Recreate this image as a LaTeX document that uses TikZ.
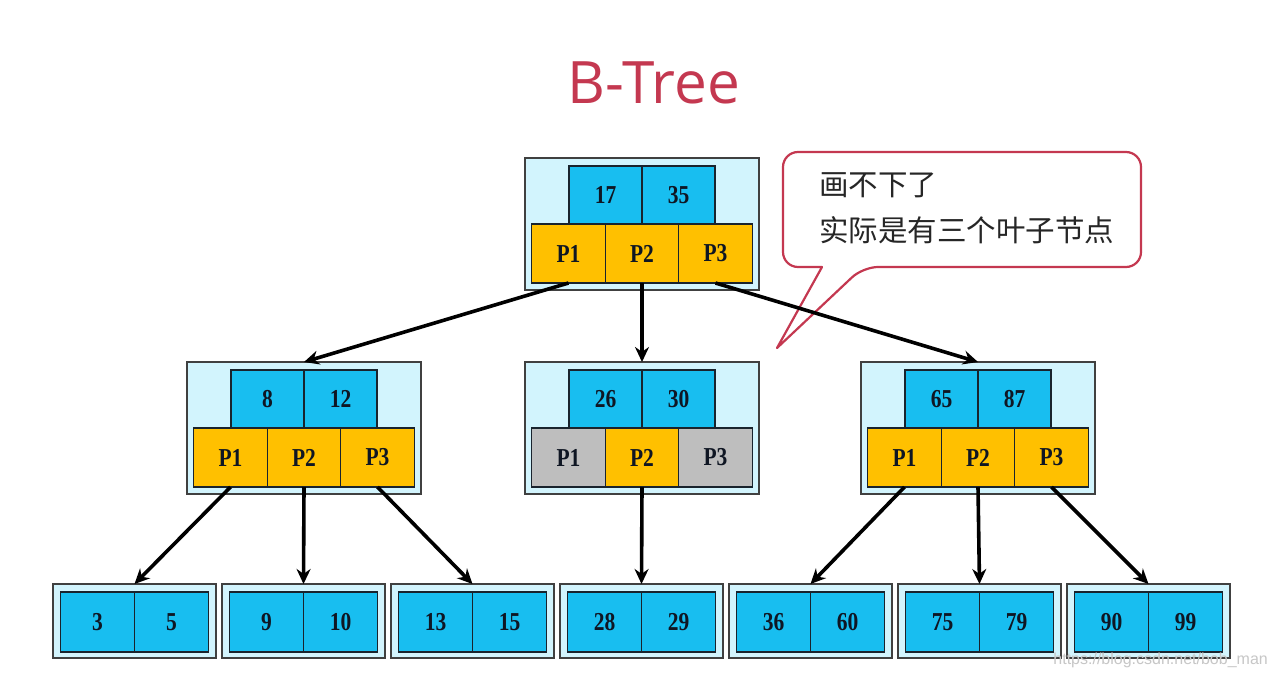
\documentclass[tikz,border=0pt]{standalone}
\usepackage{fontspec}
\setmainfont{Liberation Serif}
\newfontfamily\cjk{Noto Sans CJK SC}
\newfontfamily\titlefont{Open Sans}
\newfontfamily\wmfont{Liberation Sans}
\usetikzlibrary{arrows.meta}
\definecolor{keyc}{RGB}{24,190,240}
\definecolor{pc}{RGB}{255,192,0}
\definecolor{gc}{RGB}{190,190,190}
\definecolor{outc}{RGB}{210,244,253}
\definecolor{cellb}{RGB}{25,35,45}
\definecolor{numc}{RGB}{15,22,35}
\definecolor{redc}{RGB}{196,56,80}
\tikzset{
  outerbox/.style={draw=black!75, fill=outc, line width=1.5pt, inner sep=0, outer sep=0},
  cellbase/.style={draw=cellb, line width=1.3pt, inner sep=0, outer sep=0,
    text=numc, font=\fontsize{21.5}{21.5}\selectfont\bfseries},
  keycell/.style={cellbase, fill=keyc, minimum width=73pt, minimum height=58pt},
  pcell/.style={cellbase, minimum width=73.5pt, minimum height=59pt},
  leafcell/.style={cellbase, fill=keyc, minimum width=74pt, minimum height=60pt},
  arr/.style={line width=3.6pt, -{Stealth[length=15pt,width=14pt]}},
}
\newcommand\nm[1]{\scalebox{1}[1.2]{#1}}
\newcommand\innode[8]{%
  \node[outerbox, minimum width=234pt, minimum height=132pt] (#1) at (#2,#3+66) {};
  \node[keycell] (#1k1) at (#2-36.5,#3+37) {\nm{#4}};
  \node[keycell] (#1k2) at (#2+36.5,#3+37) {\nm{#5}};
  \node[pcell, fill=#6] (#1p1) at (#2-73.5,#3+95.5) {\nm{P1}};
  \node[pcell, fill=#7] (#1p2) at (#2,#3+95.5) {\nm{P2}};
  \node[pcell, fill=#8] (#1p3) at (#2+73.5,#3+95.5) {\nm{P3}};
}
\newcommand\leafnode[4]{%
  \node[outerbox, minimum width=163pt, minimum height=74pt] (#1) at (#2,621) {};
  \node[leafcell] (#1a) at (#2-37,622) {\nm{#3}};
  \node[leafcell] (#1b) at (#2+37,622) {\nm{#4}};
}
\begin{document}
\begin{tikzpicture}[x=1pt,y=-1pt]
\useasboundingbox (0,0) rectangle (1278,677);
\fill[white] (0,0) rectangle (1278,677);

\node[text=redc, font=\titlefont\fontsize{58.5}{58.5}\selectfont, anchor=base, inner sep=0] (title) at (654,103) {B-Tree};

% callout
\draw[redc, line width=2.2pt, line join=round]
  (822,267) [rounded corners=15pt] -- (783,267) -- (783,152) -- (1141,152) -- (1141,267) -- (863,267) [sharp corners] -- (777,348) -- cycle;
\node[font=\cjk\fontsize{29.5}{29.5}\selectfont, text=black!85, anchor=base west, inner sep=0] (cl1) at (819,195) {画不下了};
\node[font=\cjk\fontsize{29.5}{29.5}\selectfont, text=black!85, anchor=base west, inner sep=0] (cl2) at (819,241) {实际是有三个叶子节点};

\innode{R}{642}{158}{17}{35}{pc}{pc}{pc}
\innode{A}{304}{362}{8}{12}{pc}{pc}{pc}
\innode{B}{642}{362}{26}{30}{gc}{pc}{gc}
\innode{C}{978}{362}{65}{87}{pc}{pc}{pc}

\leafnode{L1}{134.5}{3}{5}
\leafnode{L2}{303.5}{9}{10}
\leafnode{L3}{472.5}{13}{15}
\leafnode{L4}{641.5}{28}{29}
\leafnode{L5}{810.5}{36}{60}
\leafnode{L6}{979.5}{75}{79}
\leafnode{L7}{1148.5}{90}{99}

\draw[arr] (Rp1.south) -- (A.north);
\draw[arr] (Rp2.south) -- (B.north);
\draw[arr] (Rp3.south) -- (C.north);
\draw[arr] (Ap1.south) -- (L1.north);
\draw[arr] (Ap2.south) -- (L2.north);
\draw[arr] (Ap3.south) -- (L3.north);
\draw[arr] (Bp2.south) -- (L4.north);
\draw[arr] (Cp1.south) -- (L5.north);
\draw[arr] (Cp2.south) -- (L6.north);
\draw[arr] (Cp3.south) -- (L7.north);

\node[font=\wmfont\fontsize{16}{16}\selectfont, text=black!22, anchor=base east, inner sep=0] (wm) at (1268,664) {https://blog.csdn.net/bob\_man};
\end{tikzpicture}
\end{document}
